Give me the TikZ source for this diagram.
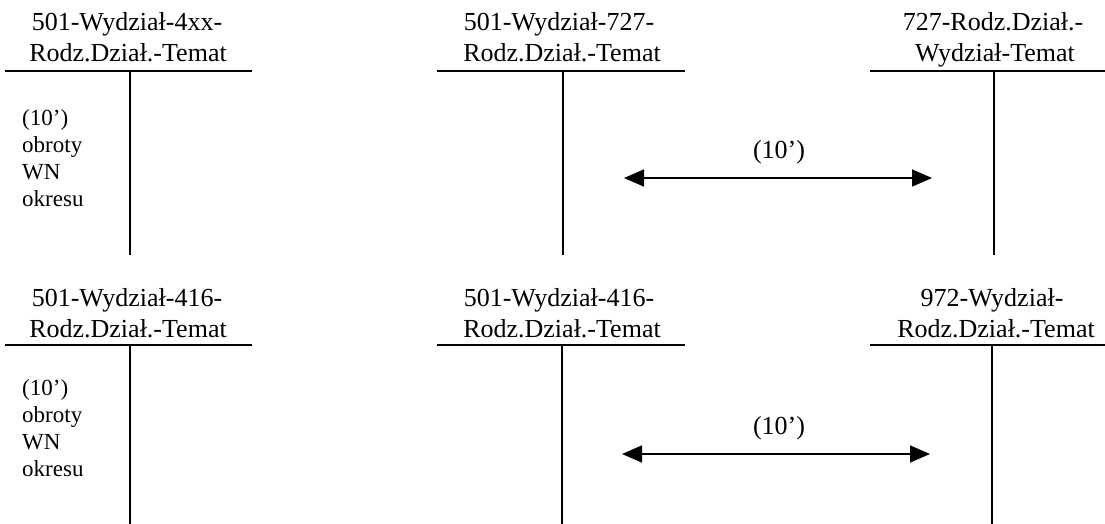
\documentclass[tikz,border=0pt]{standalone}
\usepackage{fontspec}
\setmainfont{Liberation Serif}
\usetikzlibrary{arrows.meta}
\tikzset{
  title/.style={anchor=base, inner sep=0pt, font=\fontsize{26}{30}\selectfont},
  side/.style={anchor=north west, inner sep=0pt, align=left, font=\fontsize{23}{27}\selectfont},
  lbl/.style={anchor=base, inner sep=0pt, font=\fontsize{26}{30}\selectfont},
  tline/.style={line width=1.3pt},
  flow/.style={line width=1.6pt, {Triangle[length=20pt,width=17pt]}-{Triangle[length=20pt,width=17pt]}}
}
\begin{document}
\begin{tikzpicture}[x=1pt,y=-1pt]
\useasboundingbox (0,0) rectangle (1105,524);
% ---- top row ----
\node[title] (a1) at (127,31) {501-Wydział-4xx-};
\node[title] (a2) at (128,62) {Rodz.Dział.-Temat};
\coordinate (aL) at (5,71); \coordinate (aR) at (252,71);
\coordinate (aT) at (130,71); \coordinate (aB) at (130,255);
\draw[tline] (aL) -- (aR);
\draw[tline] (aT) -- (aB);
\node[side] (as) at (22,109) {(10’)\\obroty\\WN\\okresu};

\node[title] (b1) at (559,31) {501-Wydział-727-};
\node[title] (b2) at (562,62) {Rodz.Dział.-Temat};
\coordinate (bL) at (437,71); \coordinate (bR) at (685,71);
\coordinate (bT) at (563,71); \coordinate (bB) at (563,255);
\draw[tline] (bL) -- (bR);
\draw[tline] (bT) -- (bB);

\node[title] (c1) at (993,31) {727-Rodz.Dział.-};
\node[title] (c2) at (995,62) {Wydział-Temat};
\coordinate (cL) at (870,71); \coordinate (cR) at (1105,71);
\coordinate (cT) at (994,71); \coordinate (cB) at (994,255);
\draw[tline] (cL) -- (cR);
\draw[tline] (cT) -- (cB);

\coordinate (p1) at (624,178); \coordinate (p2) at (932,178);
\draw[flow] (p1) -- (p2);
\node[lbl] (l1) at (779,158) {(10’)};

% ---- bottom row ----
\node[title] (d1) at (127,306) {501-Wydział-416-};
\node[title] (d2) at (128,337) {Rodz.Dział.-Temat};
\coordinate (dL) at (5,345); \coordinate (dR) at (252,345);
\coordinate (dT) at (130,345); \coordinate (dB) at (130,524);
\draw[tline] (dL) -- (dR);
\draw[tline] (dT) -- (dB);
\node[side] (ds) at (22,379) {(10’)\\obroty\\WN\\okresu};

\node[title] (e1) at (559,306) {501-Wydział-416-};
\node[title] (e2) at (562,337) {Rodz.Dział.-Temat};
\coordinate (eL) at (437,345); \coordinate (eR) at (685,345);
\coordinate (eT) at (562,345); \coordinate (eB) at (562,524);
\draw[tline] (eL) -- (eR);
\draw[tline] (eT) -- (eB);

\node[title] (f1) at (992,306) {972-Wydział-};
\node[title] (f2) at (996,337) {Rodz.Dział.-Temat};
\coordinate (fL) at (870,345); \coordinate (fR) at (1105,345);
\coordinate (fT) at (992,345); \coordinate (fB) at (992,524);
\draw[tline] (fL) -- (fR);
\draw[tline] (fT) -- (fB);

\coordinate (q1) at (622,454); \coordinate (q2) at (930,454);
\draw[flow] (q1) -- (q2);
\node[lbl] (l2) at (779,434) {(10’)};
\end{tikzpicture}
\end{document}
